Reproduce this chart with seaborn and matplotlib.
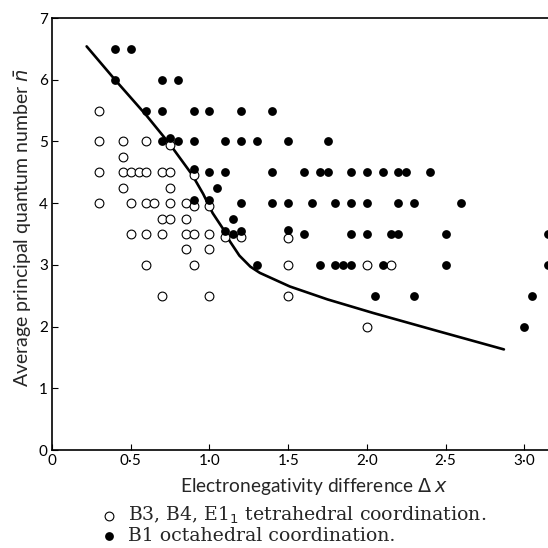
import numpy as np
import pandas as pd
import seaborn as sb
import matplotlib.pyplot as plt

# tetrahedral (open circles): B3, B4, E1_1
tet_x = [0.3,
         0.3, 0.45, 0.6, 0.75,
         0.45,
         0.3, 0.45, 0.5, 0.55, 0.6, 0.7, 0.75, 0.9,
         0.45, 0.75,
         0.3, 0.5, 0.6, 0.65, 0.75, 0.85, 0.9, 1.0,
         0.7, 0.75, 0.85,
         0.5, 0.6, 0.7, 0.85, 0.9, 1.0, 1.1, 1.2, 1.5,
         0.85, 1.0,
         0.6, 0.9, 1.5, 2.0, 2.15,
         0.7, 1.0, 1.5,
         2.0]
tet_n = [5.5,
         5.0, 5.0, 5.0, 4.95,
         4.75,
         4.5, 4.5, 4.5, 4.5, 4.5, 4.5, 4.5, 4.45,
         4.25, 4.25,
         4.0, 4.0, 4.0, 4.0, 4.0, 4.0, 3.95, 3.95,
         3.75, 3.75, 3.75,
         3.5, 3.5, 3.5, 3.5, 3.5, 3.5, 3.45, 3.45, 3.43,
         3.25, 3.25,
         3.0, 3.0, 3.0, 3.0, 3.0,
         2.5, 2.5, 2.5,
         2.0]

# octahedral (filled circles): B1
oct_x = [0.4, 0.5,
         0.4, 0.7, 0.8,
         0.6, 0.7, 0.9, 1.0, 1.2, 1.4,
         0.7, 0.75, 0.8, 0.9, 1.1, 1.2, 1.3, 1.5, 1.75,
         0.9, 1.0, 1.1, 1.4, 1.6, 1.7, 1.75, 1.9, 2.0, 2.1, 2.2, 2.25, 2.4,
         1.05,
         0.9, 1.0, 1.2, 1.4, 1.5, 1.65, 1.8, 1.9, 2.0, 2.2, 2.3, 2.6,
         1.15,
         1.1, 1.15, 1.2, 1.5, 1.6, 1.9, 2.0, 2.15, 2.2, 2.5, 3.15,
         1.3, 1.7, 1.8, 1.85, 1.9, 2.1, 2.5, 3.15,
         2.05, 2.3, 3.05,
         3.0]
oct_n = [6.5, 6.5,
         6.0, 6.0, 6.0,
         5.5, 5.5, 5.5, 5.5, 5.5, 5.5,
         5.0, 5.05, 5.0, 5.0, 5.0, 5.0, 5.0, 5.0, 5.0,
         4.55, 4.5, 4.5, 4.5, 4.5, 4.5, 4.5, 4.5, 4.5, 4.5, 4.5, 4.5, 4.5,
         4.25,
         4.05, 4.05, 4.0, 4.0, 4.0, 4.0, 4.0, 4.0, 4.0, 4.0, 4.0, 4.0,
         3.75,
         3.55, 3.5, 3.55, 3.57, 3.5, 3.5, 3.5, 3.5, 3.5, 3.5, 3.5,
         3.0, 3.0, 3.0, 3.0, 3.0, 3.0, 3.0, 3.0,
         2.5, 2.5, 2.5,
         2.0]

# hand drawn dividing curve
curve_x = [0.22, 0.40, 0.60, 0.75, 0.89, 0.96, 1.02, 1.09, 1.13, 1.19, 1.26, 1.32, 1.51, 1.75, 2.04, 2.46, 2.87]
curve_n = [6.54, 6.0, 5.42, 4.95, 4.46, 4.15, 3.84, 3.57, 3.38, 3.15, 2.97, 2.87, 2.65, 2.44, 2.22, 1.92, 1.63]

xtick_vals = [0, 0.5, 1.0, 1.5, 2.0, 2.5, 3.0]
xtick_labels = ['0', '0·5', '1·0', '1·5', '2·0', '2·5', '3·0']

tet = pd.DataFrame({'dx': tet_x, 'n': tet_n})
octa = pd.DataFrame({'dx': oct_x, 'n': oct_n})
curve = pd.DataFrame({'dx': curve_x, 'n': curve_n})

sb.set_style('ticks')
plt.rcParams['font.family'] = ['Lato', 'DejaVu Sans']

fig = plt.figure(figsize=(5.48, 5.48), dpi=100)
ax = fig.add_axes([52/548, 98/548, 496/548, 432/548])

sb.lineplot(data=curve, x='dx', y='n', color='black', linewidth=1.9, sort=False, ax=ax)
sb.scatterplot(data=tet, x='dx', y='n', marker='o', s=40, facecolor='white',
               edgecolor='black', linewidth=0.8, ax=ax, zorder=3,
               label='B3, B4, E1$_1$ tetrahedral coordination.')
sb.scatterplot(data=octa, x='dx', y='n', marker='o', s=40, color='black',
               linewidth=0, ax=ax, zorder=4, label='B1 octahedral coordination.')

ax.set_xlim(0, 3.15)
ax.set_ylim(0, 7)
ax.set_xticks(xtick_vals)
ax.set_xticklabels(xtick_labels)
ax.set_yticks(range(0, 8))
ax.tick_params(direction='in', length=4, width=0.8, labelsize=11, colors='black', pad=3)
for side in ['left', 'bottom', 'top']:
    ax.spines[side].set_linewidth(1.2)
    ax.spines[side].set_color('black')
ax.spines['right'].set_visible(False)

ax.set_xlabel(r'Electronegativity difference $\Delta\,x$', fontsize=13.8)
ax.xaxis.set_label_coords(0.528, -0.060)
ax.set_ylabel(r'Average principal quantum number $\bar{n}$', fontsize=14)
ax.yaxis.set_label_coords(-0.036, 0.516)

ax.get_legend().remove()
handles, labels = ax.get_legend_handles_labels()
fig.legend(handles, labels, loc='center left', bbox_to_anchor=(0.172, 0.042),
           frameon=False, handlelength=0.6, handletextpad=0.7, labelspacing=0.05,
           borderpad=0, prop={'family': 'DejaVu Serif', 'size': 13.6})

plt.savefig('out.png', dpi=100)
